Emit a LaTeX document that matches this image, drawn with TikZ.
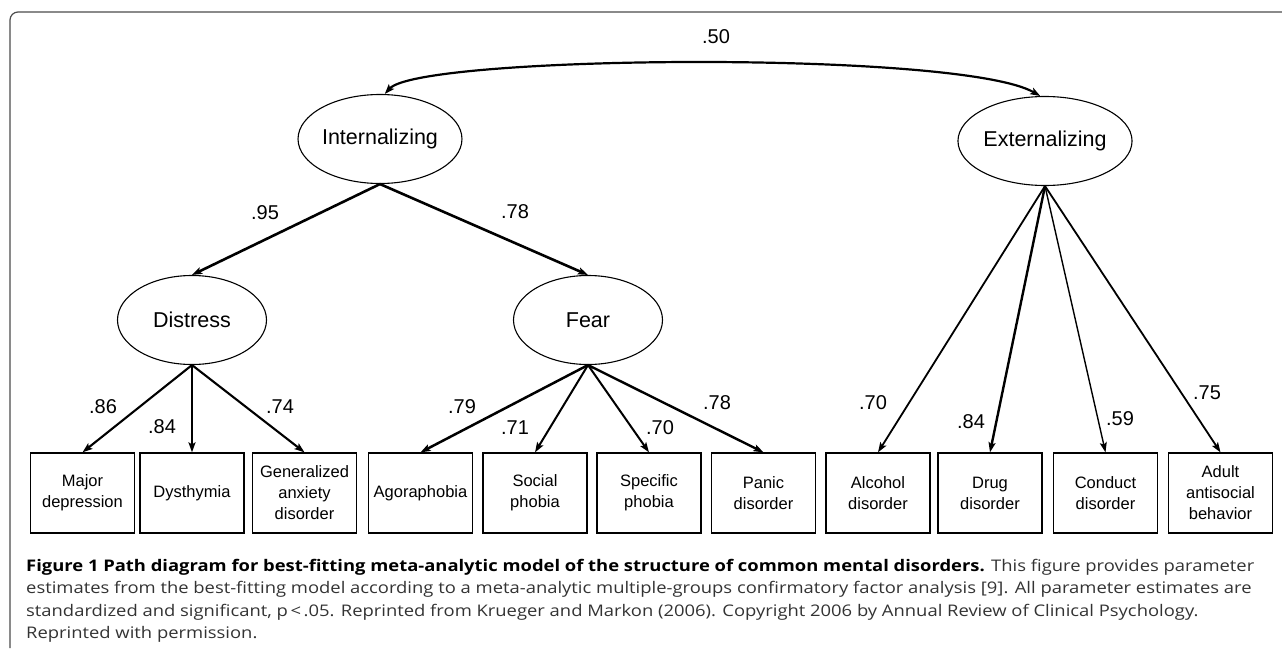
\documentclass[tikz,border=0pt]{standalone}
\usepackage{fontspec}
\setmainfont{Liberation Sans}
\newfontfamily\capfont[FakeStretch=1.15]{Open Sans}
\usetikzlibrary{arrows.meta,shapes.geometric}
\begin{document}
\begin{tikzpicture}[x=1pt,y=-1pt,
  latent/.style={draw, ellipse, line width=1.1pt, minimum width=149pt, minimum height=89pt, inner sep=0pt, font=\fontsize{21.5}{24}\selectfont},
  manifest/.style={draw, rectangle, line width=1.3pt, minimum width=104pt, minimum height=80pt, inner sep=0pt, align=center, font=\fontsize{16.5}{21}\selectfont},
  load/.style={-{Stealth[length=10pt,width=7pt,inset=2pt]}, line width=#1},
  lbl/.style={inner sep=0pt, font=\fontsize{20}{24}\selectfont},
  captxt/.style={anchor=base west, inner sep=0pt, text=black!80, font=\capfont\fontsize{16}{20}\selectfont},
  frameline/.style={draw=black!70, line width=1.2pt, rounded corners=8pt}
]
\useasboundingbox (0,0) rectangle (1282,658);
\begin{scope}
\clip (0,0) rectangle (1282,658);
\draw[frameline] (10,648) |- (1320,12);
\end{scope}

% latent factors
\node[latent] (int) at (380,139) {Internalizing};
\node[latent] (ext) at (1045,141) {Externalizing};
\node[latent] (dis) at (192,320) {Distress};
\node[latent] (fea) at (588,320) {Fear};

% observed variables
\node[manifest] (b1) at (82.5,493) {Major\\depression};
\node[manifest] (b2) at (192,493) {Dysthymia};
\node[manifest] (b3) at (304.5,493) {Generalized\\anxiety\\disorder};
\node[manifest] (b4) at (420.5,493) {Agoraphobia};
\node[manifest] (b5) at (535,493) {Social\\phobia};
\node[manifest] (b6) at (649,493) {Specific\\phobia};
\node[manifest] (b7) at (763.5,493) {Panic\\disorder};
\node[manifest] (b8) at (878,493) {Alcohol\\disorder};
\node[manifest] (b9) at (990,493) {Drug\\disorder};
\node[manifest] (b10) at (1105.5,493) {Conduct\\disorder};
\node[manifest] (b11) at (1220.5,493) {Adult\\antisocial\\behavior};

% correlation
\draw[{Stealth[length=10pt,width=7pt,inset=2pt]}-{Stealth[length=10pt,width=7pt,inset=2pt]}, line width=2.2pt]
  (int.84) .. controls (420,55) and (960,50) .. (ext.96);
\node[lbl] (l50) at (716,37) {.50};

% higher-order loadings
\draw[load=2.6pt] (int.south) -- (dis.north);
\draw[load=2.6pt] (int.south) -- (fea.north);
\node[lbl] (l95) at (265,213) {.95};
\node[lbl] (l78a) at (515,212) {.78};

% distress loadings
\draw[load=2.1pt] (dis.south) -- (b1.north);
\draw[load=1.7pt] (dis.south) -- (b2.north);
\draw[load=2.1pt] (dis.south) -- (b3.north);
\node[lbl] (l86) at (103,407) {.86};
\node[lbl] (l84a) at (162,427) {.84};
\node[lbl] (l74) at (280,407) {.74};

% fear loadings
\draw[load=2.5pt] (fea.south) -- (b4.north);
\draw[load=2.0pt] (fea.south) -- (b5.north);
\draw[load=2.0pt] (fea.south) -- (b6.north);
\draw[load=2.4pt] (fea.south) -- (b7.north);
\node[lbl] (l79) at (462,407) {.79};
\node[lbl] (l71) at (515,428) {.71};
\node[lbl] (l70a) at (660,428) {.70};
\node[lbl] (l78b) at (717,403) {.78};

% externalizing loadings
\draw[load=1.8pt] (ext.south) -- (b8.north);
\draw[load=2.4pt] (ext.south) -- (b9.north);
\draw[load=1.4pt] (ext.south) -- (b10.north);
\draw[load=1.8pt] (ext.south) -- (b11.north);
\node[lbl] (l70b) at (873,403) {.70};
\node[lbl] (l84b) at (971,422) {.84};
\node[lbl] (l59) at (1120,419) {.59};
\node[lbl] (l75) at (1207,393) {.75};

% caption
\node[captxt] (c1) at (26,571) {\textbf{\color{black}Figure 1 Path diagram for best-fitting meta-analytic model of the structure of common mental disorders.} This figure provides parameter};
\node[captxt] (c2) at (26,593.5) {estimates from the best-fitting model according to a meta-analytic multiple-groups confirmatory factor analysis [9]. All parameter estimates are};
\node[captxt] (c3) at (26,616) {standardized and significant, p\,<\,.05. Reprinted from Krueger and Markon (2006). Copyright 2006 by Annual Review of Clinical Psychology.};
\node[captxt] (c4) at (26,638.5) {Reprinted with permission.};
\end{tikzpicture}
\end{document}
